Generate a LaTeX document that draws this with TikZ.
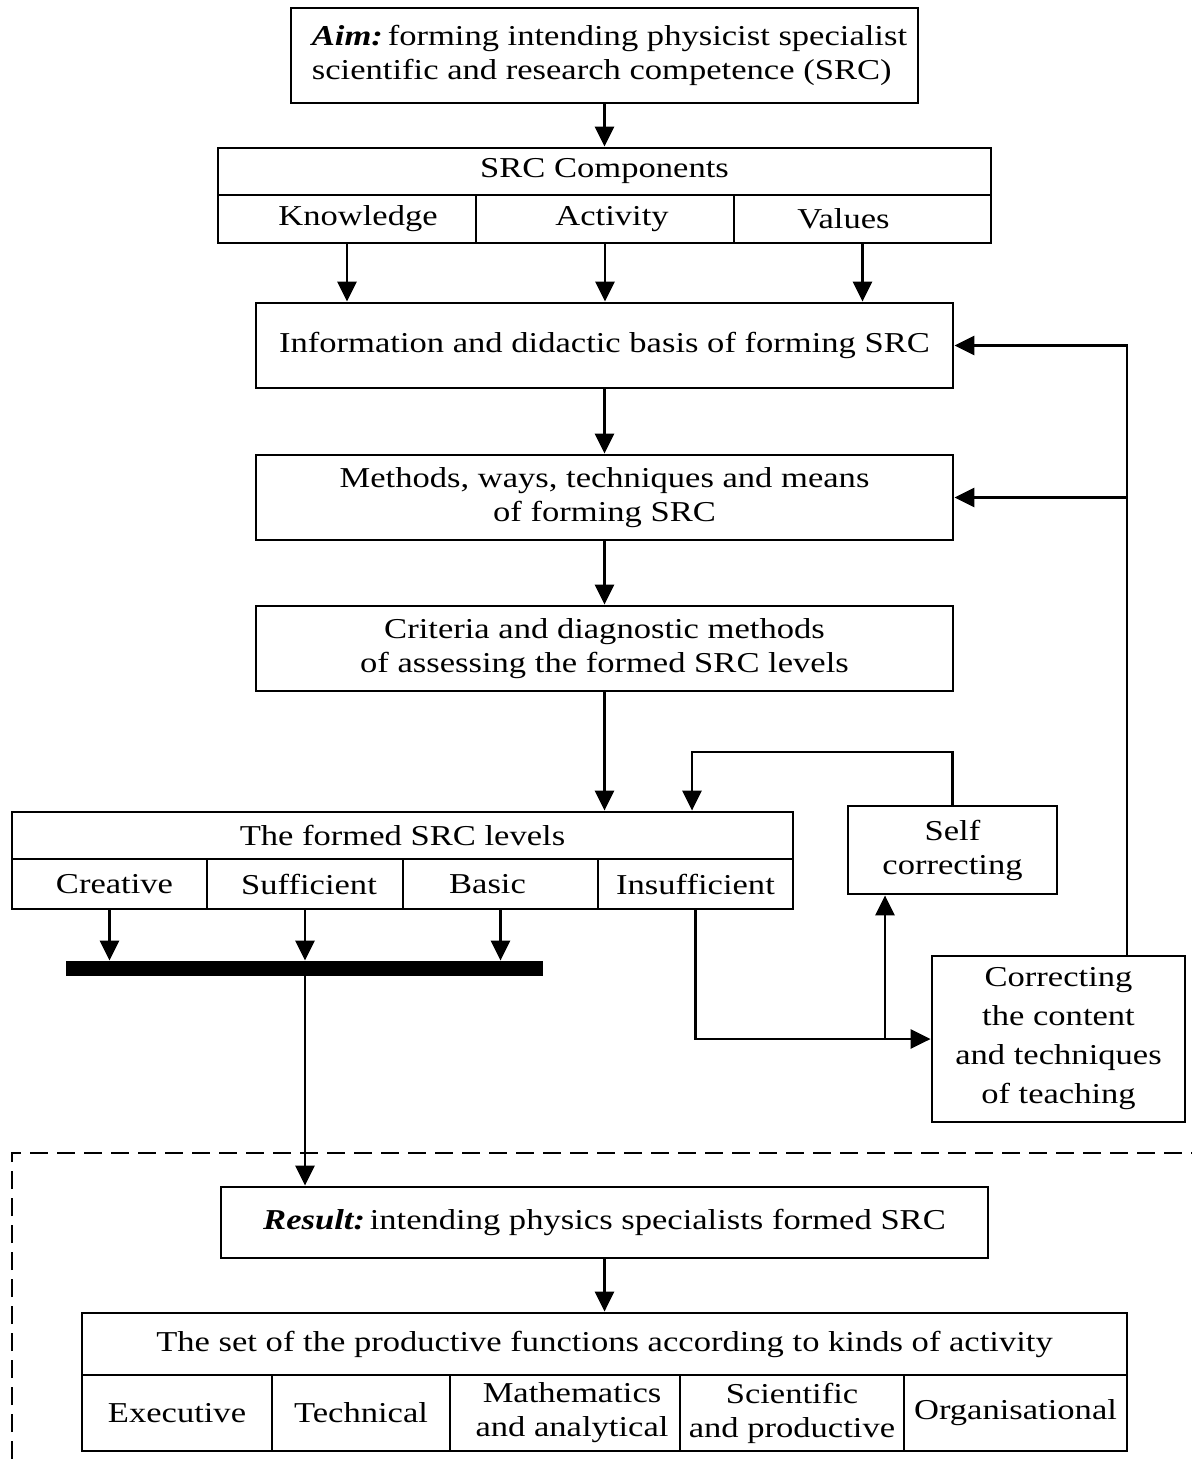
\documentclass[tikz,border=0pt]{standalone}
\usepackage{fontspec}
\setmainfont{Liberation Serif}[FakeStretch=1.2]
\usetikzlibrary{arrows.meta,calc}
\newcommand\bxnode[6]{\node[box,#1, minimum width={(#4-#2)*0.5pt}, minimum height={(#5-#3)*0.5pt}] (#6) at ({(#2+#4)/2},{(#3+#5)/2})}
\begin{document}
\begin{tikzpicture}[x=0.5pt,y=-0.5pt,
  box/.style={draw, line width=1.4pt, inner sep=0pt, align=center, font=\fontsize{14.4pt}{17pt}\selectfont},
  arr/.style={line width=1.4pt, -{Triangle[length=10pt,width=9.5pt]}},
  ln/.style={line width=1.4pt}]
\useasboundingbox (0,0) rectangle (1192,1459);
% top
\bxnode{align=left}{291}{8}{918}{103}{aim} {\hspace*{5pt}\textbf{\textit{Aim:}}\,forming intending physicist specialist\\\hspace*{5pt}scientific and research competence (SRC)};
\bxnode{}{218}{148}{991}{195}{srch} {SRC Components};
\bxnode{}{218}{195}{476}{243}{know} {\hspace*{11pt}Knowledge};
\bxnode{}{476}{195}{734}{243}{act} {\hspace*{7pt}Activity};
\bxnode{}{734}{195}{991}{243}{val} {Values\hspace*{19pt}};
\bxnode{}{256}{303}{953}{388}{info} {Information and didactic basis of forming SRC};
\bxnode{}{256}{455}{953}{540}{meth} {Methods, ways, techniques and means\\of forming SRC};
\bxnode{}{256}{606}{953}{691}{crit} {Criteria and diagnostic methods\\of assessing the formed SRC levels};
% levels
\bxnode{}{12}{812}{793}{859}{lvh} {The formed SRC levels};
\bxnode{}{12}{859}{207}{909}{cre} {\hspace*{5pt}Creative};
\bxnode{}{207}{859}{403}{909}{suf} {\hspace*{4pt}Sufficient};
\bxnode{}{403}{859}{598}{909}{bas} {Basic\hspace*{13pt}};
\bxnode{}{598}{859}{793}{909}{ins} {Insufficient};
\bxnode{fill=black}{67}{962}{542}{975}{bar} {};
\bxnode{}{848}{806}{1057}{894}{selfc} {Self\\correcting};
\bxnode{font=\fontsize{14.4pt}{19.5pt}\selectfont}{932}{956}{1185}{1122}{corr} {Correcting\\the content\\and techniques\\of teaching};
% result
\bxnode{}{221}{1187}{988}{1258}{res} {\textbf{\textit{Result:}}\,intending physics specialists formed SRC};
\bxnode{}{82}{1313}{1127}{1375}{fh} {The set of the productive functions according to kinds of activity};
\bxnode{}{82}{1375}{272}{1451}{exe} {Executive};
\bxnode{}{272}{1375}{450}{1451}{tec} {Technical};
\bxnode{}{450}{1375}{680}{1451}{mat} {\hspace*{7pt}Mathematics\\\hspace*{7pt}and analytical};
\bxnode{}{680}{1375}{904}{1451}{sci} {Scientific\\and productive};
\bxnode{}{904}{1375}{1127}{1451}{org} {Organisational};
% connectors
\draw[arr] (aim.south) -- (srch.north);
\draw[arr] (know.south) -- (know.south |- info.north);
\draw[arr] (act.south) -- (act.south |- info.north);
\draw[arr] (val.south) -- (val.south |- info.north);
\draw[arr] (info.south) -- (meth.north);
\draw[arr] (meth.south) -- (crit.north);
\draw[arr] (crit.south) -- (crit.south |- lvh.north);
\draw[arr] (cre.south) -- (cre.south |- bar.north);
\draw[arr] (suf.south) -- (suf.south |- bar.north);
\draw[arr] (bas.south) -- (bas.south |- bar.north);
\draw[arr] (suf.south |- bar.south) -- (suf.south |- res.north);
\draw[arr] (ins.south) |- (corr.west);
\coordinate (brA) at (885,1039);
\draw[arr] (brA) -- (brA |- selfc.south);
\coordinate (loopc) at (692,752);
\draw[arr] (selfc.north) |- (loopc) -- (loopc |- lvh.north);
\coordinate (rt) at (1127,345.5);
\draw[arr] (corr.north -| rt) -- (rt) -- (info.east);
\draw[arr] (meth.east -| rt) -- (meth.east);
\draw[arr] (res.south) -- (fh.north);
% dashed frame
\draw[ln, dash pattern=on 9pt off 4.5pt] (12,1459) -- (12,1153) -- (1192,1153);
\end{tikzpicture}
\end{document}
